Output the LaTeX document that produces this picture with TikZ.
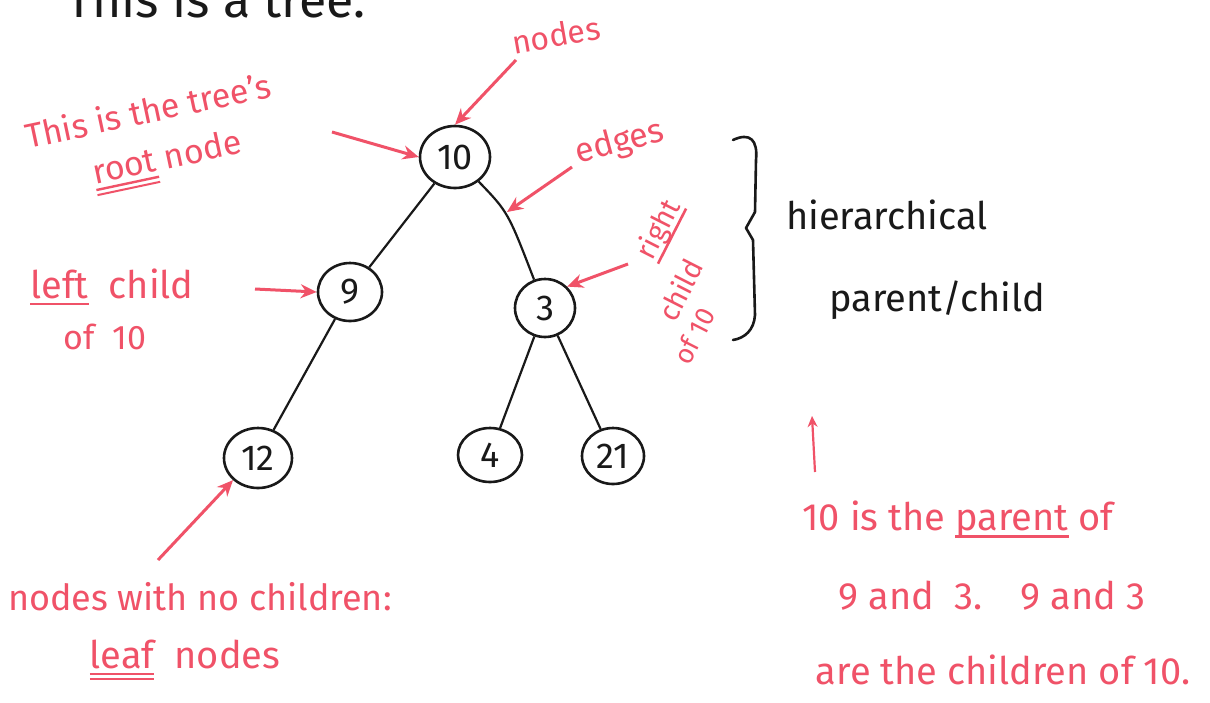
\documentclass[tikz,border=0pt]{standalone}
\usepackage{fontspec}
\setmainfont{Fira Sans}
\usetikzlibrary{arrows.meta,shapes.geometric}
\definecolor{pen}{RGB}{240,82,104}
\definecolor{ink}{RGB}{25,25,25}
\newcommand\myul[1]{\setbox0\hbox{#1}\rlap{\rule[-7pt]{\wd0}{2.6pt}}\box0\relax}
\newcommand\myuul[1]{\setbox0\hbox{#1}\rlap{\rule[-7pt]{\wd0}{2.4pt}}\rlap{\rule[-12pt]{\wd0}{2pt}}\box0\relax}
\tikzset{
  treenode/.style={draw=ink,line width=2.6pt,ellipse,minimum width=70pt,minimum height=62pt,inner sep=0pt,font=\fontsize{36}{38}\selectfont,text=ink},
  edgeline/.style={draw=ink,line width=2.2pt},
  redarrow/.style={draw=pen,line width=3pt,-{Stealth[length=16pt,width=14pt]}},
  redtext/.style={text=pen,font=\fontsize{38}{42}\selectfont,inner sep=0pt},
  blacktext/.style={text=ink,font=\fontsize{38}{42}\selectfont,inner sep=0pt}
}
\begin{document}
\begin{tikzpicture}[x=1pt,y=-1pt]
\useasboundingbox (0,0) rectangle (1210,702);
\fill[white] (0,0) rectangle (1210,702);
% title (cut off at top)
\node[blacktext,anchor=base,font=\fontsize{50}{52}\selectfont] (title) at (216,17) {This is a tree.};
% tree
\node[treenode] (n10) at (455,157) {10};
\node[treenode,minimum width=64pt,minimum height=58pt] (n9) at (350,292) {9};
\node[treenode,minimum width=60pt,minimum height=58pt] (n3) at (545,308) {3};
\node[treenode,minimum width=68pt,minimum height=60pt] (n12) at (258,458) {12};
\node[treenode,minimum width=64pt,minimum height=54pt] (n4) at (490,455) {4};
\node[treenode,minimum width=62pt,minimum height=56pt] (n21) at (613,456) {21};
\draw[edgeline] (n10) -- (n9);
\draw[edgeline] (n10) .. controls (508,212) .. (n3);
\draw[edgeline] (n9) -- (n12);
\draw[edgeline] (n3) -- (n4);
\draw[edgeline] (n3) -- (n21);
% brace (hand drawn)
\draw[ink,line width=2.6pt,line cap=round,line join=round]
  (733,140) .. controls (750,132) and (758,140) .. (756,160) -- (755,212) -- (746,228) -- (753,240)
  -- (755,315) .. controls (754,330) and (745,338) .. (733,340);
\node[blacktext] (hier) at (887,215) {hierarchical};
\node[blacktext] (pc) at (937,300) {parent/child};
% red annotations
\node[redtext,rotate=10,font=\fontsize{32}{34}\selectfont] (lnodes) at (556,35) {nodes};
\coordinate (a1s) at (516,60);
\draw[redarrow] (a1s) -- (n10.north);
\node[redtext,rotate=12,font=\fontsize{34}{36}\selectfont] (lroot1) at (148,110) {This is the tree's};
\node[redtext,rotate=12,font=\fontsize{34}{36}\selectfont] (lroot2) at (168,162) {\myuul{root} node};
\coordinate (a2s) at (332,132);
\draw[redarrow] (a2s) -- (n10.west);
\node[redtext,rotate=15,font=\fontsize{34}{36}\selectfont] (ledges) at (620,143) {edges};
\coordinate (a3s) at (572,167);
\coordinate (a3e) at (507,212);
\draw[redarrow] (a3s) -- (a3e);
\node[redtext] (lleft) at (112,287) {\myul{left}\ \ child};
\node[redtext,font=\fontsize{34}{36}\selectfont] (lof) at (105,337) {of\ \ 10};
\coordinate (a4s) at (255,289);
\draw[redarrow] (a4s) -- (n9.west);
\node[redtext,rotate=63,font=\fontsize{29}{30}\selectfont] (lright1) at (660,230) {\myul{right}};
\node[redtext,rotate=63,font=\fontsize{29}{30}\selectfont] (lright2) at (680,290) {child};
\node[redtext,rotate=63,font=\fontsize{27}{28}\selectfont] (lright3) at (694,336) {of 10};
\coordinate (a5s) at (628,264);
\draw[redarrow] (a5s) -- (n3.north east);
\node[redtext,font=\fontsize{36}{38}\selectfont] (lleaf1) at (200,597) {nodes with no children:};
\node[redtext] (lleaf2) at (185,660) {\myuul{leaf}\ \ nodes};
\coordinate (a6s) at (158,560);
\draw[redarrow] (a6s) -- (n12.south west);
\coordinate (a7s) at (815,472);
\coordinate (a7e) at (812,416);
\draw[redarrow,line width=2.2pt,-{Stealth[length=11pt,width=10pt]}] (a7s) -- (a7e);
\node[redtext] (lpar1) at (958,520) {10 is the \myul{parent} of};
\node[redtext] (lpar2) at (992,596) {9 and\ \ 3.\quad 9 and 3};
\node[redtext] (lpar3) at (1003,670) {are the children of 10.};
\end{tikzpicture}
\end{document}
